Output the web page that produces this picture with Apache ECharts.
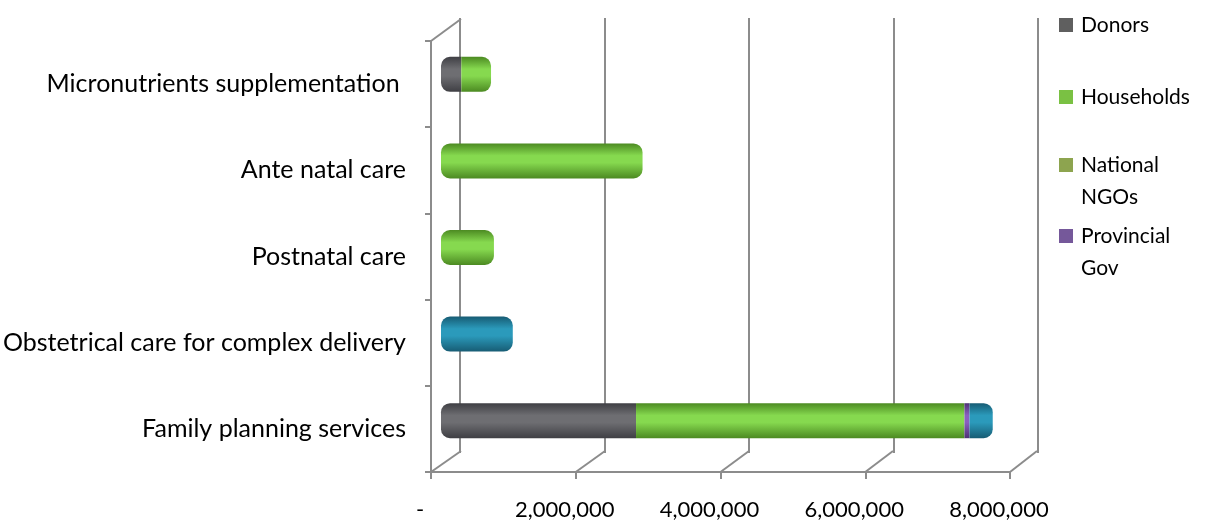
<!DOCTYPE html>
<html>
<head>
<meta charset="utf-8">
<script src="https://cdn.jsdelivr.net/npm/echarts@6/dist/echarts.min.js"></script>
<style>
html,body{margin:0;padding:0;background:#fff;}
#c{width:1211px;height:521px;}
</style>
</head>
<body>
<div id="c"></div>
<script>
// categories bottom -> top
var categories = ['Family planning services','Obstetrical care for complex delivery','Postnatal care','Ante natal care','Micronutrients supplementation '];
var donors      = [2690000, 0, 0, 0, 280000];
var households  = [4530000, 0, 730000, 2780000, 410000];
var nationalNGOs= [0, 0, 0, 0, 0];
var provincial  = [70000, 0, 0, 0, 0];
var other       = [320000, 990000, 0, 0, 0];
var tickValues  = [0, 2000000, 4000000, 6000000, 8000000];

var FONT = 'Lato';
var GRID = '#8c8c8c';

function cyl(edge, mid){
  return new echarts.graphic.LinearGradient(0,0,0,1,[
    {offset:0,color:edge},{offset:0.35,color:mid},{offset:0.55,color:mid},{offset:1,color:edge}
  ]);
}
var seriesDefs = [
  {name:'Donors', data:donors, fill:cyl('#3f3f44','#6e6e72')},
  {name:'Households', data:households, fill:cyl('#4c8a22','#86d94f')},
  {name:'National NGOs', data:nationalNGOs, fill:cyl('#5f7530','#97ad58')},
  {name:'Provincial Gov', data:provincial, fill:cyl('#4e3275','#8a5fc0')},
  {name:'Other', data:other, fill:cyl('#175c74','#2b9abb')}
];
// first / last non-zero segment per category for rounded caps
var R = 9;
function radiusFor(si, ci){
  var first=-1,last=-1;
  for(var k=0;k<seriesDefs.length;k++){ if(seriesDefs[k].data[ci]>0){ if(first<0) first=k; last=k; } }
  var l = si===first ? R : 0, r = si===last ? R : 0;
  return [l, r, r, l];
}
var barSeries = seriesDefs.map(function(d, si){
  return {
    name:d.name, type:'bar', stack:'total', xAxisIndex:2, yAxisIndex:2,
    barWidth:35, itemStyle:{color:d.fill},
    data:d.data.map(function(v,ci){ return {value:v, itemStyle:{borderRadius:radiusFor(si,ci)}}; })
  };
});

var floorSeries = {
  type:'custom', xAxisIndex:1, yAxisIndex:1, silent:true, z:1,
  data: tickValues.map(function(v){ return [v]; }),
  renderItem:function(params, api){
    var v = api.value(0);
    var cs = params.coordSys;
    var x = api.coord([v, 0])[0];
    var bottom = cs.y + cs.height;
    var dx = 30 - 3 * v / 8000000;
    var children = [{type:'line', shape:{x1:x,y1:bottom,x2:x+dx,y2:bottom-21}, style:{stroke:GRID,lineWidth:2}}];
    if(v===0){
      children.push({type:'line', shape:{x1:x,y1:cs.y,x2:x+dx,y2:cs.y-22}, style:{stroke:GRID,lineWidth:2}});
    }
    return {type:'group', children:children};
  }
};

function legendAt(name, top, color, label){
  return {
    data:[{name:name, itemStyle:{color:color}}], orient:'vertical', left:1059, top:top, padding:0,
    icon:'rect', itemWidth:14, itemHeight:14, selectedMode:false,
    formatter:function(){ return label; },
    textStyle:{fontFamily:FONT, fontSize:21, color:'#000', lineHeight:32, padding:[0,0,0,3]}
  };
}

var chart = echarts.init(document.getElementById('c'), null, {renderer:'canvas'});
chart.setOption({
  animation:false,
  backgroundColor:'#fff',
  legend:[
    legendAt('Donors', 9, '#5f5f5f', 'Donors'),
    legendAt('Households', 81, '#7ac143', 'Households'),
    legendAt('National NGOs', 117, '#8da44f', '\nNational\nNGOs'),
    legendAt('Provincial Gov', 188, '#75589a', '\nProvincial\nGov')
  ],
  grid:[
    {left:460, right:173, top:18, bottom:68},
    {left:430, right:201, top:41, bottom:47},
    {left:441, right:190, top:31, bottom:57}
  ],
  xAxis:[
    {gridIndex:0, type:'value', min:0, max:8000000, interval:2000000,
     axisLine:{show:false}, axisTick:{show:false}, axisLabel:{show:false},
     splitLine:{show:true, lineStyle:{color:GRID, width:2}}},
    {gridIndex:1, type:'value', min:0, max:8000000, interval:2000000,
     axisLine:{show:true, lineStyle:{color:GRID, width:2}},
     axisTick:{show:true, length:7, lineStyle:{color:GRID, width:2}},
     splitLine:{show:false},
     axisLabel:{fontFamily:FONT, fontSize:22, color:'#000', margin:27, padding:[0,22,0,0],
       formatter:function(v){ return v===0 ? '-' : v.toLocaleString('en-US'); }}},
    {gridIndex:2, type:'value', min:0, max:8000000, show:false, splitLine:{show:false}}
  ],
  yAxis:[
    {gridIndex:0, type:'category', data:categories, show:false},
    {gridIndex:1, type:'category', data:categories,
     axisLine:{show:true, lineStyle:{color:GRID, width:2}},
     axisTick:{show:true, length:6, lineStyle:{color:GRID, width:2}},
     axisLabel:{fontFamily:FONT, fontSize:25, color:'#000', margin:25}},
    {gridIndex:2, type:'category', data:categories, show:false}
  ],
  series:[floorSeries].concat(barSeries)
});
</script>
</body>
</html>
